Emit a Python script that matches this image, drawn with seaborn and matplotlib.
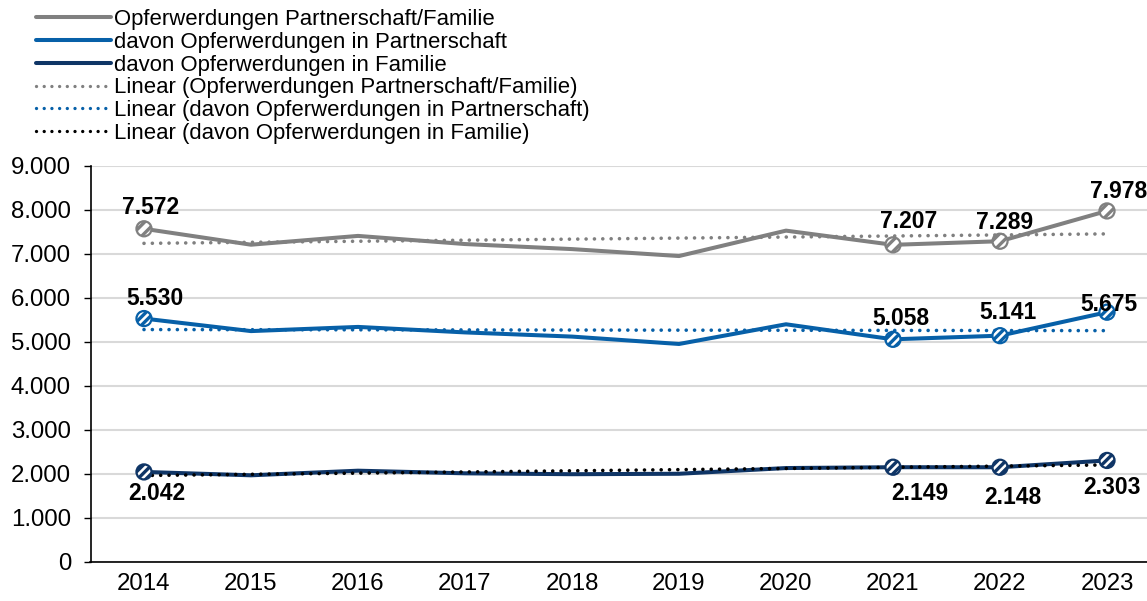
import numpy as np
import pandas as pd
import matplotlib
matplotlib.use("Agg")
import matplotlib.pyplot as plt
from matplotlib.lines import Line2D
from matplotlib.ticker import FuncFormatter
import seaborn as sns

# Data
years = [2014, 2015, 2016, 2017, 2018, 2019, 2020, 2021, 2022, 2023]
total = [7572, 7210, 7410, 7225, 7110, 6952, 7530, 7207, 7289, 7978]
partner = [5530, 5245, 5340, 5215, 5120, 4952, 5400, 5058, 5141, 5675]
family = [2042, 1965, 2070, 2010, 1990, 2000, 2130, 2149, 2148, 2303]
labelled_years = [2014, 2021, 2022, 2023]

names = ["Opferwerdungen Partnerschaft/Familie",
         "davon Opferwerdungen in Partnerschaft",
         "davon Opferwerdungen in Familie"]
colors = ["#808080", "#0760A8", "#0F3566"]
trend_colors = ["#808080", "#0760A8", "#000000"]

# label offsets in pixels (dx, dy) for the labelled years, per series
label_offsets = [
    [(7, 21), (16, 23), (5, 19), (12, 19)],
    [(11, 20), (8, 21), (8, 23), (2, 8)],
    [(13, -22), (27, -26), (13, -30), (5, -27)],
]

sns.set_theme(style="white")
plt.rcParams["font.family"] = ["Liberation Sans", "DejaVu Sans"]
plt.rcParams["hatch.linewidth"] = 2.4
plt.rcParams["text.color"] = "black"

df = pd.DataFrame({"Jahr": years * 3,
                   "Wert": total + partner + family,
                   "Reihe": [names[0]] * 10 + [names[1]] * 10 + [names[2]] * 10})

fig = plt.figure(figsize=(11.47, 6.01), dpi=100)
ax = fig.add_axes([90.5 / 1147, 39.3 / 601, (1160.5 - 90.5) / 1147, (561.7 - 166) / 601])

sns.lineplot(data=df, x="Jahr", y="Wert", hue="Reihe", palette=colors,
             linewidth=2.9, legend=False, ax=ax, zorder=3)

# Excel-style linear trendlines
dotted = (0, (0.01, 2.3))
for series, c in zip([total, partner, family], trend_colors):
    sns.regplot(x=np.array(years, dtype=float), y=np.array(series, dtype=float),
                ax=ax, scatter=False, ci=None, truncate=True,
                line_kws={"color": c, "lw": 2.6, "linestyle": dotted,
                          "dash_capstyle": "round", "zorder": 4})

hatches = ["///", "////", "////"]
for series, c, offs, h in zip([total, partner, family], colors, label_offsets, hatches):
    xs = [y for y in years if y in labelled_years]
    vs = [v for y, v in zip(years, series) if y in labelled_years]
    with plt.rc_context({"hatch.color": c}):
        ax.scatter(xs, vs, s=118, facecolor="white", edgecolor=c,
                   linewidth=1.6, hatch=h, zorder=5)
    for x, v, (dx, dy) in zip(xs, vs, offs):
        ax.annotate(f"{v:,}".replace(",", "."), (x, v), xytext=(dx, dy),
                    textcoords="offset pixels", ha="center", va="center",
                    fontsize=16.5, fontweight="bold", color="black",
                    zorder=6, annotation_clip=False)

ax.set_xlim(2013.5, 2023.5)
ax.set_ylim(0, 9000)
ax.set_xticks(years)
ax.set_yticks(range(0, 9001, 1000))
ax.yaxis.set_major_formatter(FuncFormatter(lambda v, p: f"{int(v):,}".replace(",", ".")))
ax.set_xlabel("")
ax.set_ylabel("")
ax.yaxis.grid(True, color="#d9d9d9", linewidth=1.5)
ax.set_axisbelow(True)
ax.tick_params(axis="y", length=5, width=1, color="black", pad=9, labelsize=17.3, labelcolor="black", left=True)
ax.tick_params(axis="x", length=0, pad=8, labelsize=17.3, labelcolor="black")
for s in ["top", "right"]:
    ax.spines[s].set_visible(False)
for s in ["left", "bottom"]:
    ax.spines[s].set_color("black")
    ax.spines[s].set_linewidth(1.2)

handles = [Line2D([], [], color=colors[0], lw=2.9),
           Line2D([], [], color=colors[1], lw=2.9),
           Line2D([], [], color=colors[2], lw=2.9),
           Line2D([], [], color=trend_colors[0], lw=2.4, linestyle=dotted, dash_capstyle="round"),
           Line2D([], [], color=trend_colors[1], lw=2.4, linestyle=dotted, dash_capstyle="round"),
           Line2D([], [], color=trend_colors[2], lw=2.4, linestyle=dotted, dash_capstyle="round")]
labels = names + ["Linear (" + n + ")" for n in names]
fig.legend(handles, labels, loc="upper left", bbox_to_anchor=(36 / 1147, 1 - 9 / 601),
           frameon=False, fontsize=15.9, handlelength=3.4, handletextpad=0.12,
           labelspacing=0.08, borderpad=0, borderaxespad=0, labelcolor="black")

fig.savefig("out.png", dpi=100)
